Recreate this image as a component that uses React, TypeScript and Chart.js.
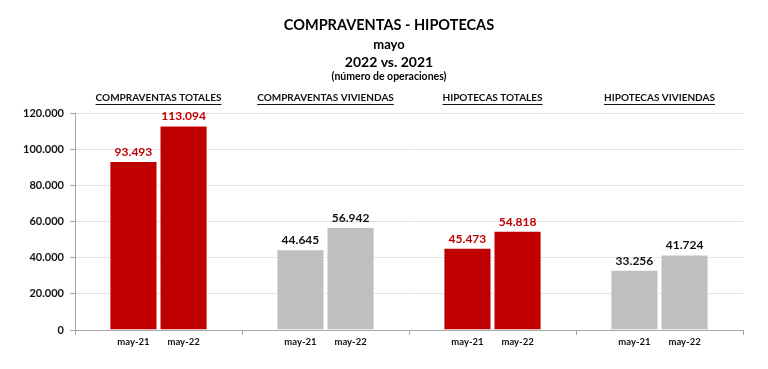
import React, { useEffect, useRef } from 'react';
import { Chart, registerables } from 'chart.js';

Chart.register(...registerables);

const groups = ['COMPRAVENTAS TOTALES', 'COMPRAVENTAS VIVIENDAS', 'HIPOTECAS TOTALES', 'HIPOTECAS VIVIENDAS'];
const periods = ['may-21', 'may-22'];
const may21 = [93493, 44645, 45473, 33256];
const may22 = [113094, 56942, 54818, 41724];
const barColors = ['#C00000', '#BFBFBF', '#C00000', '#BFBFBF'];
const valueColors = ['#C00000', '#111111', '#C00000', '#111111'];
const titleLines = ['COMPRAVENTAS - HIPOTECAS', 'mayo', '2022 vs. 2021', '(número de operaciones)'];

const FONT = 'Lato, "Open Sans", sans-serif';
const fmt = (n: number) => String(n).replace(/\B(?=(\d{3})+(?!\d))/g, '.');

const overlayPlugin = {
  id: 'overlay',
  afterDraw(chart: any) {
    const ctx = chart.ctx;
    ctx.save();
    ctx.textAlign = 'center';
    ctx.textBaseline = 'middle';
    // title block
    const titleFonts = ['bold 14.5px', 'bold 13px', 'bold 14px', 'bold 10.5px'];
    const titleY = [25, 45, 62, 77];
    titleLines.forEach((t, i) => {
      ctx.font = `${titleFonts[i]} ${FONT}`;
      ctx.fillStyle = '#000000';
      ctx.fillText(t, 389, titleY[i]);
    });
    // group headers (underlined)
    const xs = chart.scales.x;
    ctx.font = `bold 10px ${FONT}`;
    groups.forEach((g, i) => {
      const x = xs.getPixelForValue(i);
      const y = 98;
      ctx.fillStyle = '#111111';
      ctx.fillText(g, x, y);
      const w = ctx.measureText(g).width;
      ctx.fillRect(x - w / 2, y + 6, w, 1);
    });
    // value labels and period labels
    chart.data.datasets.forEach((ds: any, di: number) => {
      const meta = chart.getDatasetMeta(di);
      meta.data.forEach((el: any, i: number) => {
        ctx.font = `bold 12px ${FONT}`;
        ctx.fillStyle = valueColors[i];
        ctx.fillText(fmt(ds.data[i]), el.x, el.y - 9);
        ctx.font = `bold 9.5px ${FONT}`;
        ctx.fillStyle = '#111111';
        ctx.fillText(periods[di], el.x, chart.chartArea.bottom + 12);
      });
    });
    ctx.restore();
  },
};

export default function App() {
  const ref = useRef<HTMLCanvasElement | null>(null);
  useEffect(() => {
    if (!ref.current) return;
    const chart = new Chart(ref.current, {
      type: 'bar',
      data: {
        labels: groups,
        datasets: [
          { label: periods[0], data: may21, backgroundColor: barColors, borderColor: '#ffffff', borderWidth: 1 },
          { label: periods[1], data: may22, backgroundColor: barColors, borderColor: '#ffffff', borderWidth: 1 },
        ],
      },
      options: {
        responsive: true,
        maintainAspectRatio: false,
        animation: false,
        layout: { padding: { top: 113, right: 25, left: 0, bottom: 0 } },
        plugins: { legend: { display: false }, tooltip: { enabled: false }, title: { display: false } },
        datasets: { bar: { categoryPercentage: 0.6, barPercentage: 0.96 } },
        scales: {
          x: {
            type: 'category',
            offset: true,
            border: { display: true, color: '#A6A6A6', width: 1 },
            grid: { offset: true, drawOnChartArea: false, drawTicks: true, tickLength: 5, color: '#A6A6A6' },
            ticks: { display: false },
            afterFit: (s: any) => { s.height = 39; },
          },
          y: {
            min: 0,
            max: 120000,
            border: { display: true, color: '#A6A6A6', width: 1 },
            grid: { color: '#E2E2E2', tickColor: '#A6A6A6', tickLength: 5 },
            ticks: {
              stepSize: 20000,
              color: '#111111',
              padding: 6,
              font: { family: FONT, size: 11, weight: 'bold' },
              callback: (v: any) => fmt(Number(v)),
            },
            afterFit: (s: any) => { s.width = 75; },
          },
        },
      },
      plugins: [overlayPlugin],
    } as any);
    return () => chart.destroy();
  }, []);
  return (
    <div style={{ position: 'absolute', left: 0, top: 0, width: 768, height: 369, background: '#ffffff' }}>
      <canvas ref={ref} />
    </div>
  );
}
